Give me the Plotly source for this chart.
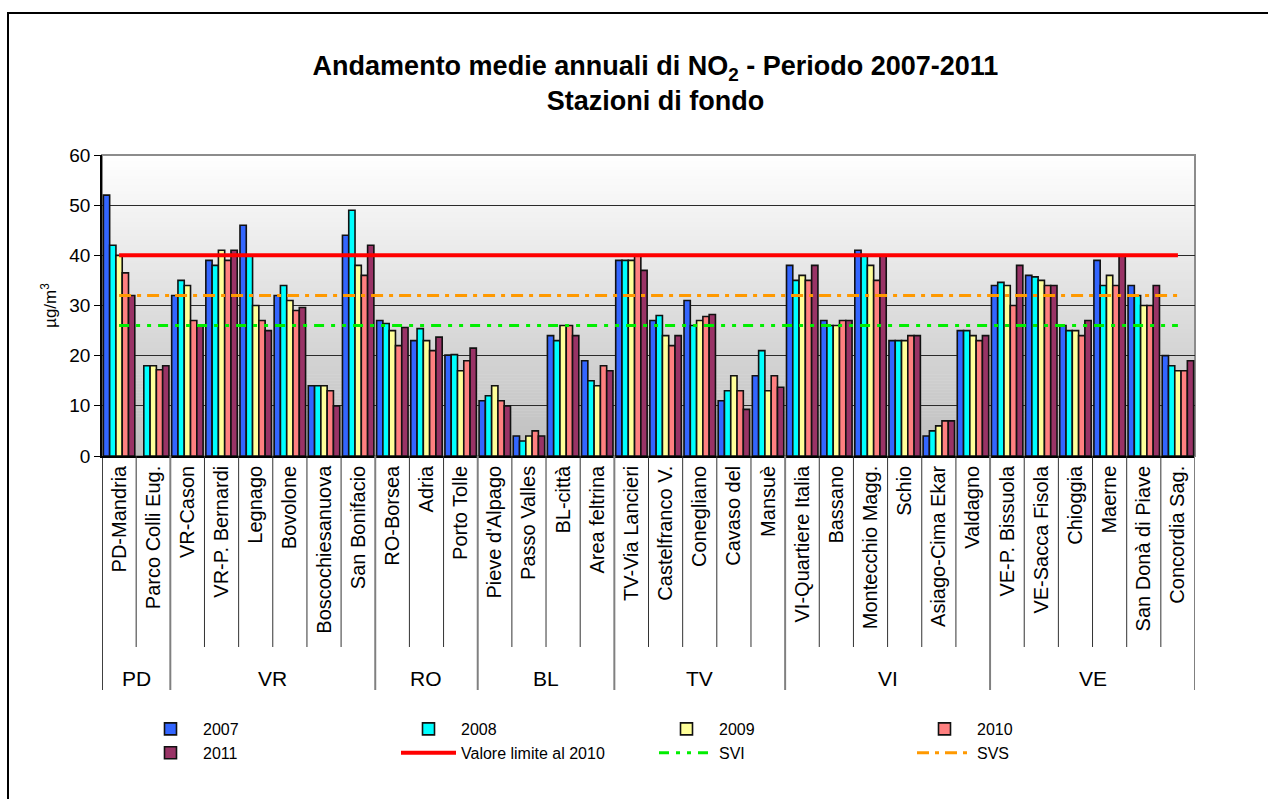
import plotly.graph_objects as go

# Stations grouped by province
provinces = ["PD", "VR", "RO", "BL", "TV", "VI", "VE"]
stations_by_province = [
    ["PD-Mandria", "Parco Colli Eug."],
    ["VR-Cason", "VR-P. Bernardi", "Legnago", "Bovolone", "Boscochiesanuova", "San Bonifacio"],
    ["RO-Borsea", "Adria", "Porto Tolle"],
    ["Pieve d'Alpago", "Passo Valles", "BL-città", "Area feltrina"],
    ["TV-Via Lancieri", "Castelfranco V.", "Conegliano", "Cavaso del", "Mansuè"],
    ["VI-Quartiere Italia", "Bassano", "Montecchio Magg.", "Schio", "Asiago-Cima Ekar", "Valdagno"],
    ["VE-P. Bissuola", "VE-Sacca Fisola", "Chioggia", "Maerne", "San Donà di Piave", "Concordia Sag."],
]
stations = [s for group in stations_by_province for s in group]

# Annual means of NO2 (µg/m3)
y2007 = [52, None, 32, 39, 46, 32, 14, 44, 27, 23, 20.1, 11, 4, 24, 19, 39, 27, 31, 11, 16,
         38, 27, 41, 23, 4, 25, 34, 36, 26, 39, 34, 20]
y2008 = [42, 18, 35, 38, 40, 34, 14, 49, 26.4, 25.4, 20.2, 12, 3, 23, 15, 39, 28, 26, 13, 21,
         35, 26, 40, 23, 5, 25, 34.6, 35.7, 25, 34, 32, 18]
y2009 = [40, 18, 34, 41, 30, 31, 14, 38, 25, 23, 17, 14, 4, 26, 14, 39, 24, 27, 16, 13,
         36, 26, 38, 23, 6, 24, 34, 35, 25, 36, 30, 17]
y2010 = [36.5, 17.2, 27, 39, 27, 29, 13, 36, 22, 21, 19, 11, 5, 26, 18, 40, 22, 27.8, 13, 16,
         35, 27, 35, 24, 7, 23, 30, 34, 24, 34, 30, 17]
y2011 = [32, 18, 26, 41, 25, 29.6, 10, 42, 25.6, 23.7, 21.5, 10, 4, 24, 17, 37, 24, 28.2, 9.3, 13.7,
         38, 27, 40, 24, 7, 24, 38, 34, 27, 40, 34, 19]

years = ["2007", "2008", "2009", "2010", "2011"]
series = [y2007, y2008, y2009, y2010, y2011]
bar_colors = ["#3366FF", "#00FFFF", "#FFFF99", "#FF8080", "#993366"]

# Reference thresholds (µg/m3)
valore_limite = 40
svi = 26
svs = 32

# Plot-area geometry in pixels
W, H = 1268, 799
L, R, T, B = 102, 73, 155, 343
PW, PH = W - L - R, H - T - B


def py(px_y):
    """Pixel row -> paper y."""
    return (H - B - px_y) / PH


def px(px_x):
    """Pixel column -> paper x."""
    return (px_x - L) / PW


fig = go.Figure()

for name, vals, col in zip(years, series, bar_colors):
    fig.add_trace(go.Bar(
        x=stations, y=vals, name=name,
        marker=dict(color=col, line=dict(color="#111111", width=1.6)),
    ))

fig.add_trace(go.Scatter(
    x=stations, y=[valore_limite] * len(stations), mode="lines",
    name="Valore limite al 2010", line=dict(color="#FF0000", width=4),
))
fig.add_trace(go.Scatter(
    x=stations, y=[svi] * len(stations), mode="lines", name="SVI",
    line=dict(color="#00EE00", width=3, dash="10px,7px,4px,7px,4px,7px"),
))
fig.add_trace(go.Scatter(
    x=stations, y=[svs] * len(stations), mode="lines", name="SVS",
    line=dict(color="#FF9900", width=3, dash="12px,6px,4px,6px"),
))

shapes = []

# Vertical gradient backdrop of the plot area (white at top to grey at bottom)
n_bands = 100
top_c, bot_c = 255, 190
for i in range(n_bands):
    t = (i + 0.5) / n_bands
    g = round(top_c + (bot_c - top_c) * (1 - t))
    shapes.append(dict(
        type="rect", xref="paper", yref="paper",
        x0=0, x1=1, y0=i / n_bands, y1=(i + 1) / n_bands + 0.002,
        fillcolor=f"rgb({g},{g},{g})", line=dict(width=0), layer="below",
    ))

# Plot-area frame
shapes.append(dict(type="rect", xref="paper", yref="paper", x0=0, x1=1, y0=0, y1=1,
                   line=dict(color="#8C8C8C", width=2), layer="below"))

# Category table below the axis: station separators and province dividers
bounds = []
pos = 0
for group in stations_by_province:
    bounds.append(pos)
    pos += len(group)
bounds.append(pos)
y_station = py(647)
y_prov = py(690)
for k in range(1, len(stations)):
    if k in bounds:
        continue
    shapes.append(dict(type="line", xref="x", yref="paper", x0=k - 0.5, x1=k - 0.5,
                       y0=0, y1=y_station, line=dict(color="#333333", width=1)))
for k in bounds:
    color = "#000000" if k == 0 else "#808080"
    shapes.append(dict(type="line", xref="x", yref="paper", x0=k - 0.5, x1=k - 0.5,
                       y0=0, y1=y_prov, line=dict(color=color, width=2 if k else 1.5)))

# Outer chart border
shapes.append(dict(type="rect", xref="paper", yref="paper",
                   x0=px(8), x1=px(1300), y0=py(1000), y1=py(13),
                   line=dict(color="#000000", width=2), fillcolor="rgba(0,0,0,0)"))

annotations = []
for prov, lo, hi in zip(provinces, bounds[:-1], bounds[1:]):
    annotations.append(dict(
        x=(lo + hi - 1) / 2, y=py(678), xref="x", yref="paper",
        text=prov, showarrow=False, font=dict(size=21, color="#000000"),
        xanchor="center", yanchor="middle",
    ))

fig.update_layout(
    width=W, height=H,
    margin=dict(l=L, r=R, t=T, b=B),
    paper_bgcolor="#FFFFFF",
    plot_bgcolor="#FFFFFF",
    font=dict(family="Liberation Sans, Arial, sans-serif", color="#000000"),
    title=dict(
        text="Andamento medie annuali di NO<sub>2</sub> - Periodo 2007-2011<br>Stazioni di fondo",
        x=px(667), xanchor="center", y=1 - 75 / H, yanchor="top", yref="container",
        font=dict(size=27, color="#000000", family="Liberation Sans, Arial, sans-serif",
                  weight="bold"),
    ),
    barmode="group",
    bargap=0.08,
    bargroupgap=0,
    showlegend=True,
    legend=dict(
        orientation="h", x=px(138), y=py(712), xanchor="left", yanchor="top",
        xref="paper", yref="paper",
        entrywidth=188, entrywidthmode="pixels",
        itemwidth=55, tracegroupgap=0,
        font=dict(size=16, color="#000000"),
        bgcolor="rgba(0,0,0,0)",
    ),
    shapes=shapes,
    annotations=annotations,
)

fig.update_xaxes(
    type="category", categoryorder="array", categoryarray=stations,
    range=[-0.5, len(stations) - 0.5],
    tickangle=-90, tickfont=dict(size=20, color="#000000"),
    showgrid=False, ticks="", showline=True, linecolor="#000000", linewidth=1.5,
    zeroline=False,
)
fig.update_yaxes(
    range=[0, 60], dtick=10, tick0=0,
    showgrid=True, gridcolor="#2A2A2A", gridwidth=1,
    ticks="outside", ticklen=6, tickcolor="#000000",
    tickfont=dict(size=19, color="#000000"),
    showline=True, linecolor="#000000", linewidth=1.5,
    zeroline=False,
    title=dict(text="µg/m<sup>3</sup>", font=dict(size=17, color="#000000"), standoff=8),
)

fig.write_html("out.html")
